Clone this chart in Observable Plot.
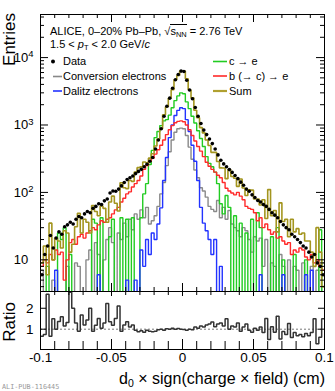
<!DOCTYPE html>
<html><head><meta charset="utf-8">
<script src="https://cdn.jsdelivr.net/npm/d3@7"></script>
<script src="https://cdn.jsdelivr.net/npm/@observablehq/plot@0.6"></script>
<style>
body{margin:0;background:#fff;}
#wrap{position:relative;width:335px;height:391px;overflow:hidden;font-family:"Liberation Sans",Arial,Helvetica,sans-serif;color:#000;}
#top{position:absolute;left:0;top:0;}
#bot{position:absolute;left:0;top:290px;}
.t{position:absolute;white-space:nowrap;font-size:11px;line-height:11px;}
.t sub{font-size:0.68em;vertical-align:-0.3em;line-height:0;}
.ol{border-top:1px solid #000;}
#ann{position:absolute;left:0;top:0;pointer-events:none;}
</style></head>
<body>
<div id="wrap">
<div id="top"></div>
<div id="bot"></div>
<svg id="ann" width="335" height="391" font-family="'Liberation Sans', Arial, Helvetica, sans-serif">
  <text transform="translate(15,13) rotate(-90)" text-anchor="end" font-size="17">Entries</text>
  <text transform="translate(15,302) rotate(-90)" text-anchor="end" font-size="17">Ratio</text>
  <text x="325" y="383.5" text-anchor="end" font-size="16">d<tspan font-size="10.5" dy="3">0</tspan><tspan dy="-3"> × sign(charge × field) (cm)</tspan></text>
  <text x="2" y="389" font-size="6.8" fill="#999" font-family="'DejaVu Sans Mono', monospace">ALI-PUB-116445</text>
  <circle cx="53" cy="61.5" r="2" fill="#000"/>
  <line x1="53" x2="62" y1="76.5" y2="76.5" stroke="#888" stroke-width="1.6"/>
  <line x1="53" x2="62" y1="91" y2="91" stroke="#2233ff" stroke-width="1.6"/>
  <line x1="213" x2="227" y1="61.5" y2="61.5" stroke="#22cc22" stroke-width="1.6"/>
  <line x1="213" x2="227" y1="76" y2="76" stroke="#ff2a2a" stroke-width="1.6"/>
  <line x1="213" x2="227" y1="91" y2="91" stroke="#b0a030" stroke-width="2.2"/>
  <g font-size="11">
    <text x="63" y="65">Data</text>
    <text x="63" y="80">Conversion electrons</text>
    <text x="63" y="94.5">Dalitz electrons</text>
    <text x="229" y="65">c → e</text>
    <text x="229" y="80">b (→ c) → e</text>
    <text x="229" y="94.5">Sum</text>
  </g>
</svg>
<div class="t" style="left:50px;top:25.7px;">ALICE, 0–20% Pb–Pb, √<span class="ol">s<sub>NN</sub></span> = 2.76 TeV</div>
<div class="t" style="left:50px;top:38.7px;">1.5 &lt; <i>p</i><sub>T</sub> &lt; 2.0 GeV/<i>c</i></div>
</div>
<script>
const binLo = -0.1, binHi = 0.1;

const dataCounts = [6,12,16,23,15,21,26,24,31,33,
 36,34,40,44,42,48,52,50,58,62,
 68,66,75,80,98,105,104,112,125,140,
 155,165,175,190,205,220,240,262,290,330,
 440,600,880,1350,1900,2500,3500,4700,5600,6300,
 6200,4600,3300,2450,1820,1350,1050,840,720,620,
 530,440,360,300,265,240,218,198,178,160,
 142,128,112,104,92,84,76,72,66,62,
 56,50,46,42,37,33,30,28,24,22,
 20,18,16,15,13,11,12,9,8,6];

const sumCounts = [9,16,6,35,10,21,19,15,27,25,
 13,17,31,49,25,40,36,25,64,52,
 45,63,58,36,72,88,69,53,139,117,
 114,150,146,200,233,239,282,276,322,375,
 489,619,880,1421,1863,2500,3333,4700,5437,6300,
 6327,4842,3300,2526,1655,1286,913,764,600,496,
 393,393,288,231,230,160,218,172,162,123,
 158,116,90,109,108,80,80,65,78,41,
 110,45,54,26,70,37,40,22,40,26,
 29,24,25,19,19,13,8,30,13,4];

const charmCounts = [0,0,8,0,0,0,25,20,30,0,
 12,0,0,0,0,0,0,0,40,35,
 0,42,0,0,22,40,0,0,42,0,
 40,0,42,0,0,42,95,135,260,420,
 650,800,980,1150,1200,1400,1800,2300,2700,3000,
 2900,2200,1750,1350,1070,820,630,480,340,270,
 240,200,135,68,48,90,60,0,45,0,
 35,0,25,0,40,0,50,30,0,0,
 0,22,0,30,0,10,0,0,0,12,
 0,0,0,10,0,0,0,0,28,0];

const beautyCounts = [8,10,9,12,10,14,12,13,5,10,
 18,20,17,22,24,21,25,27,30,28,
 33,38,36,40,42,48,55,60,72,82,
 95,102,120,135,150,175,220,250,290,320,
 370,430,500,600,720,850,980,1080,1130,1150,
 1120,1000,850,700,580,480,410,340,280,245,
 220,200,180,165,140,115,105,98,92,100,
 88,78,62,58,56,50,38,42,30,34,
 28,24,26,21,22,19,17,18,12,14,
 13,15,14,11,10,12,9,10,8,7];

const dalitzCounts = [0,0,0,0,0,7,0,0,0,0,
 0,0,0,0,0,0,0,0,0,0,
 6,0,0,0,0,0,0,0,0,0,
 5,0,0,5,0,14,8,20,12,25,
 20,34,59,150,330,650,1000,1380,1650,1800,
 1750,1200,800,500,290,150,60,35,27,20,
 12,20,0,8,0,0,0,0,0,0,
 0,0,0,0,0,0,0,6,0,0,
 0,0,0,0,0,6,0,0,0,0,
 0,0,0,6,0,7,0,0,0,0];

const conversionCounts = [7,0,0,0,5,0,0,0,0,8,
 0,0,9,8,0,0,10,14,0,18,
 12,0,10,20,30,18,0,25,20,35,
 22,40,28,48,40,55,42,60,34,38,
 45,62,95,140,250,400,600,780,880,900,
 880,700,470,310,215,165,117,105,85,62,
 56,52,76,42,60,40,54,34,30,27,
 22,30,27,20,13,22,19,21,8,20,
 0,9,8,0,12,8,0,10,0,8,
 7,0,9,0,0,8,0,7,0,9];

const yTickValuesTop = [10, 100, 1000, 10000];
const xTickLabels = [-0.1, -0.05, 0, 0.05, 0.1];
const ratioTickLabels = [1, 2];

const nBins = dataCounts.length;
const bw = (binHi - binLo) / nBins;
const FLOOR = 0.01;
function outline(vals) {
  return vals.flatMap((v, i) => {
    const y = v > 0 ? v : FLOOR;
    return [{x: binLo + i * bw, y}, {x: binLo + (i + 1) * bw, y}];
  });
}
const dataPts = dataCounts.map((v, i) => ({x: binLo + (i + 0.5) * bw, y: v})).filter(d => d.y > 0);
const ratioVals = dataCounts.map((v, i) => sumCounts[i] > 0 ? v / sumCounts[i] : 0);

const font = "'Liberation Sans', Arial, Helvetica, sans-serif";
const W = 335, mL = 40, mR = 11;
const FW = W - mL - mR;

// top panel
const topH = 292, tMT = 14, tMB = 1;
const FH = topH - tMT - tMB;
const yDom = [3.39, 43550];
const minorYTop = [];
for (let k = 0; k <= 4; k++) for (let m = 2; m <= 9; m++) {
  const v = m * Math.pow(10, k);
  if (v > yDom[0] && v < yDom[1]) minorYTop.push(v);
}
const xMinor = d3.range(-10, 11).map(k => k / 100).filter(v => !xTickLabels.some(t => Math.abs(t - v) < 1e-9));

const lineOpts = (c, w = 1.4) => ({x: "x", y: "y", stroke: c, strokeWidth: w, clip: true, strokeLinejoin: "miter"});

const topPlot = Plot.plot({
  width: W, height: topH, marginLeft: mL, marginRight: mR, marginTop: tMT, marginBottom: tMB,
  style: {fontFamily: font, fontSize: "13px", background: "transparent", overflow: "visible", color: "#000"},
  x: {domain: [binLo, binHi], axis: null},
  y: {type: "log", domain: yDom},
  marks: [
    Plot.line(outline(conversionCounts), lineOpts("#8a8a8a")),
    Plot.line(outline(charmCounts), lineOpts("#22cc22")),
    Plot.line(outline(dalitzCounts), lineOpts("#2233ff")),
    Plot.line(outline(beautyCounts), lineOpts("#ff2a2a")),
    Plot.line(outline(sumCounts), lineOpts("#a3951f", 1.6)),
    Plot.dot(dataPts, {x: "x", y: "y", r: 1.8, fill: "#000", stroke: "none"}),
    Plot.frame({stroke: "#000"}),
    Plot.tickY(yTickValuesTop, {y: d => d, insetRight: FW - 8, stroke: "#000"}),
    Plot.tickY(yTickValuesTop, {y: d => d, insetLeft: FW - 8, stroke: "#000"}),
    Plot.tickY(minorYTop, {y: d => d, insetRight: FW - 4, stroke: "#000"}),
    Plot.tickY(minorYTop, {y: d => d, insetLeft: FW - 4, stroke: "#000"}),
    Plot.tickX(xTickLabels, {x: d => d, insetTop: FH - 8, stroke: "#000"}),
    Plot.tickX(xTickLabels, {x: d => d, insetBottom: FH - 8, stroke: "#000"}),
    Plot.tickX(xMinor, {x: d => d, insetTop: FH - 4, stroke: "#000"}),
    Plot.tickX(xMinor, {x: d => d, insetBottom: FH - 4, stroke: "#000"}),
    Plot.axisY(yTickValuesTop, {tickSize: 0, tickPadding: 7, fontSize: 13, label: null,
      tickFormat: d => d === 10 ? "10" : "10^" + Math.round(Math.log10(d))})
  ]
});
topPlot.querySelectorAll('g[aria-label="y-axis tick label"] text').forEach(t => {
  const s = t.textContent;
  const m = s.match(/^10\^(\d+)$/);
  t.textContent = "10";
  const sp = document.createElementNS("http://www.w3.org/2000/svg", "tspan");
  sp.setAttribute("dy", "-0.45em");
  sp.setAttribute("font-size", "9.5");
  sp.textContent = m ? m[1] : "0";
  if (!m) sp.setAttribute("fill-opacity", "0");
  t.appendChild(sp);
});
document.getElementById("top").appendChild(topPlot);

// ratio panel
const botH = 101, bMT = 1, bMB = 42;
const BH = botH - bMT - bMB;
const botPlot = Plot.plot({
  width: W, height: botH, marginLeft: mL, marginRight: mR, marginTop: bMT, marginBottom: bMB,
  style: {fontFamily: font, fontSize: "13.5px", background: "transparent", overflow: "visible", color: "#000"},
  x: {domain: [binLo, binHi]},
  y: {domain: [0.03, 2.8]},
  marks: [
    Plot.ruleY([1], {stroke: "#777", strokeDasharray: "2,2", strokeWidth: 1}),
    Plot.line(outline(ratioVals), lineOpts("#333", 1.5)),
    Plot.frame({stroke: "#000"}),
    Plot.tickX(xTickLabels, {x: d => d, insetTop: BH - 10, stroke: "#000"}),
    Plot.tickX(xMinor, {x: d => d, insetTop: BH - 8, stroke: "#000"}),
    Plot.tickX(xTickLabels, {x: d => d, insetBottom: BH - 5, stroke: "#000"}),
    Plot.tickX(xMinor, {x: d => d, insetBottom: BH - 4, stroke: "#000"}),
    Plot.tickY(ratioTickLabels, {y: d => d, insetRight: FW - 6, stroke: "#000"}),
    Plot.tickY(ratioTickLabels, {y: d => d, insetLeft: FW - 6, stroke: "#000"}),
    Plot.axisX(xTickLabels, {tickSize: 0, tickPadding: 3, fontSize: 13.5, label: null, tickFormat: d => String(d)}),
    Plot.axisY(ratioTickLabels, {tickSize: 0, tickPadding: 7, fontSize: 13.5, label: null, tickFormat: d => String(d)})
  ]
});
document.getElementById("bot").appendChild(botPlot);
</script>
</body></html>
